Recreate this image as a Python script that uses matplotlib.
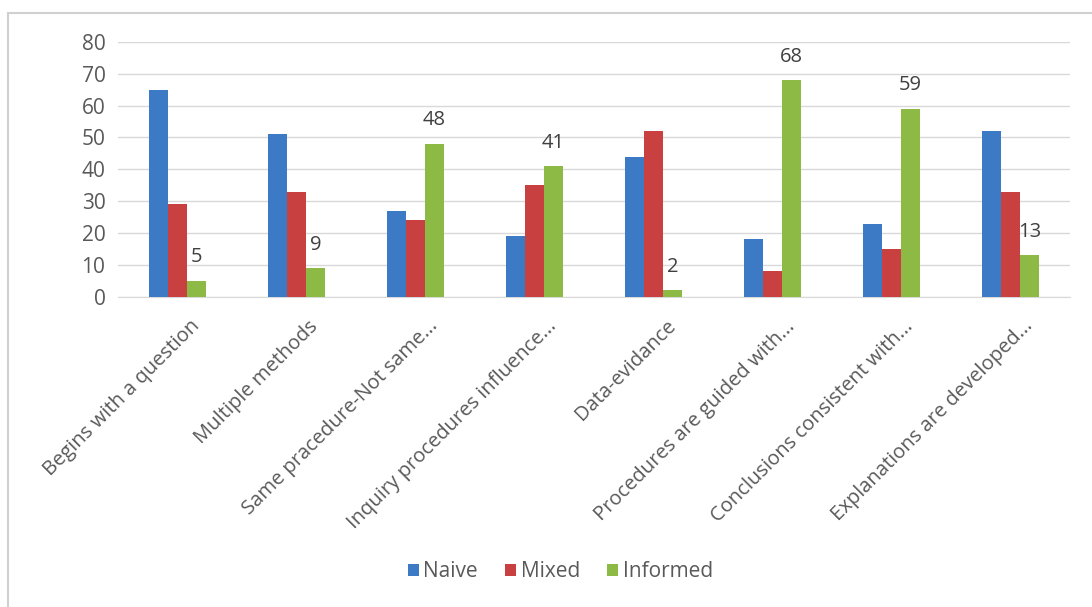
import numpy as np
import matplotlib.pyplot as plt
from matplotlib.patches import Rectangle

categories = ['Begins with a question', 'Multiple methods', 'Same pracedure-Not same...',
              'Inquiry procedures influence...', 'Data-evidance', 'Procedures are guided with...',
              'Conclusions consistent with...', 'Explanations are developed...']
naive = [65, 51, 27, 19, 44, 18, 23, 52]
mixed = [29, 33, 24, 35, 52, 8, 15, 33]
informed = [5, 9, 48, 41, 2, 68, 59, 13]

plt.rcParams['font.family'] = ['Open Sans', 'DejaVu Sans']

fig = plt.figure(figsize=(10.92, 6.07), dpi=100)
ax = fig.add_axes([0.108, 0.511, 0.872, 0.420])

# outer frame (top/left visible)
fig.patches.append(Rectangle((8 / 1092, -0.1), 1.2, 1 - 13 / 607 + 0.1, transform=fig.transFigure,
                             fill=False, edgecolor='#d0d0d0', linewidth=1.5))

x = np.arange(len(categories))
w = 0.16
ax.bar(x - w, naive, w, color='#3D7AC6', label='Naive', zorder=3)
ax.bar(x, mixed, w, color='#C8403F', label='Mixed', zorder=3)
b3 = ax.bar(x + w, informed, w, color='#8DBA45', label='Informed', zorder=3)

for rect, v in zip(b3, informed):
    ax.annotate(str(v), (rect.get_x() + rect.get_width() / 2, v), xytext=(0, 17),
                textcoords='offset points', ha='center', va='center',
                fontsize=14.5, color='#404040')

ax.set_xlim(-0.5, len(categories) - 0.5)
ax.set_ylim(0, 80)
ax.set_yticks(range(0, 81, 10))
ax.yaxis.grid(True, color='#d9d9d9', linewidth=1)
ax.set_axisbelow(True)
for s in ['top', 'right', 'left']:
    ax.spines[s].set_visible(False)
ax.spines['bottom'].set_color('#d9d9d9')
ax.tick_params(axis='y', length=0, pad=9, labelsize=15, labelcolor='#595959')
ax.tick_params(axis='x', length=0, pad=14)
ax.set_xticks(x + 0.1)
ax.set_xticklabels(categories, rotation=45, ha='right', rotation_mode='anchor',
                   fontsize=14.5, color='#595959')

fig.legend(loc='center', bbox_to_anchor=(0.513, 0.058), ncol=3, frameon=False,
           fontsize=15, handlelength=0.55, handleheight=0.55, handletextpad=0.2,
           columnspacing=1.3, labelcolor='#595959')

fig.savefig('out.png', dpi=100)
